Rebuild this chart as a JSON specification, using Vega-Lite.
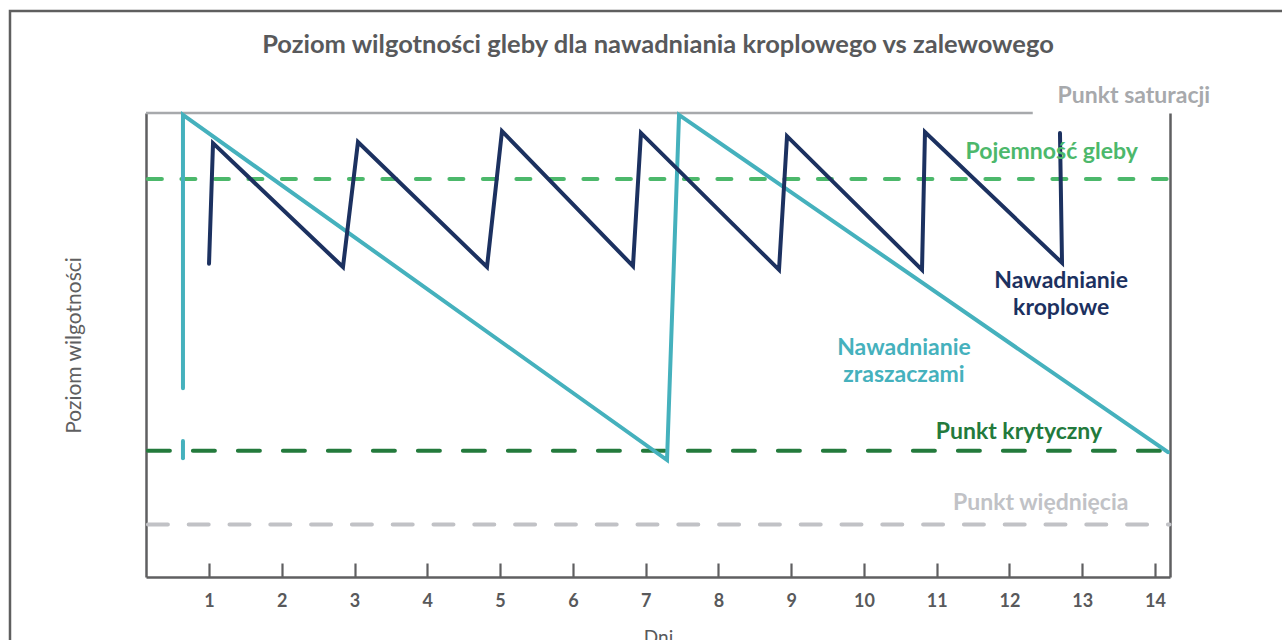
{
  "$schema": "https://vega.github.io/schema/vega-lite/v6.json",
  "width": 1024,
  "height": 464,
  "autosize": {"type": "none"},
  "padding": {"left": 146, "top": 113, "right": 112, "bottom": 63},
  "background": "white",
  "config": {"view": {"stroke": null}, "font": "Lato"},
  "title": {
    "text": "Poziom wilgotności gleby dla nawadniania kroplowego vs zalewowego",
    "font": "Lato", "fontSize": 25.5, "fontWeight": "bold", "color": "#58595b",
    "anchor": "middle", "frame": "group", "baseline": "alphabetic", "offset": -69
  },
  "datasets": {
    "series": [
      {"k": "zraszacze", "seg": "a", "i": 0, "day": 0.642, "m": 25.6},
      {"k": "zraszacze", "seg": "a", "i": 1, "day": 0.642, "m": 29.3},
      {"k": "zraszacze", "seg": "b", "i": 0, "day": 0.642, "m": 40.7},
      {"k": "zraszacze", "seg": "b", "i": 1, "day": 0.642, "m": 99.6},
      {"k": "zraszacze", "seg": "b", "i": 2, "day": 7.294, "m": 25.2},
      {"k": "zraszacze", "seg": "b", "i": 3, "day": 7.459, "m": 99.6},
      {"k": "zraszacze", "seg": "b", "i": 4, "day": 14.178, "m": 26.9},
      {"k": "kroplowe", "seg": "c", "i": 0, "day": 1.0, "m": 67.5},
      {"k": "kroplowe", "seg": "c", "i": 1, "day": 1.055, "m": 93.5},
      {"k": "kroplowe", "seg": "c", "i": 2, "day": 2.841, "m": 66.8},
      {"k": "kroplowe", "seg": "c", "i": 3, "day": 3.047, "m": 93.75},
      {"k": "kroplowe", "seg": "c", "i": 4, "day": 4.82, "m": 66.8},
      {"k": "kroplowe", "seg": "c", "i": 5, "day": 5.026, "m": 96.1},
      {"k": "kroplowe", "seg": "c", "i": 6, "day": 6.826, "m": 67.0},
      {"k": "kroplowe", "seg": "c", "i": 7, "day": 6.936, "m": 95.7},
      {"k": "kroplowe", "seg": "c", "i": 8, "day": 8.833, "m": 66.2},
      {"k": "kroplowe", "seg": "c", "i": 9, "day": 8.943, "m": 95.0},
      {"k": "kroplowe", "seg": "c", "i": 10, "day": 10.798, "m": 66.2},
      {"k": "kroplowe", "seg": "c", "i": 11, "day": 10.839, "m": 95.9},
      {"k": "kroplowe", "seg": "c", "i": 12, "day": 12.722, "m": 67.7},
      {"k": "kroplowe", "seg": "c", "i": 13, "day": 12.694, "m": 95.7}
    ],
    "levels": [
      {"k": "saturacja", "m": 100, "a": 0.134, "b": 12.32},
      {"k": "pojemnosc", "m": 85.8, "a": 0.16, "b": 14.16},
      {"k": "krytyczny", "m": 27.2, "a": 0.16, "b": 14.2},
      {"k": "wiedniecie", "m": 11.3, "a": 0.16, "b": 14.2}
    ],
    "notes": [
      {"k": "saturacja", "t": "Punkt saturacji", "day": 13.71, "m": 103.6},
      {"k": "pojemnosc", "t": "Pojemność gleby", "day": 12.58, "m": 91.6},
      {"k": "kroplowe", "t": "Nawadnianie\nkroplowe", "day": 12.71, "m": 63.8},
      {"k": "zraszacze", "t": "Nawadnianie\nzraszaczami", "day": 10.55, "m": 49.35},
      {"k": "krytyczny", "t": "Punkt krytyczny", "day": 12.13, "m": 31.25},
      {"k": "wiedniecie", "t": "Punkt więdnięcia", "day": 12.43, "m": 15.95}
    ]
  },
  "resolve": {"axis": {"y": "independent"}},
  "layer": [
    {
      "data": {"values": [{}]},
      "mark": {"type": "rect", "fill": "white", "fillOpacity": 0, "stroke": "#5f5f5f", "strokeWidth": 2.5},
      "encoding": {
        "x": {"datum": -1.735, "type": "quantitative", "scale": {"domain": [0.134, 14.206]}},
        "x2": {"datum": 17},
        "y": {"datum": 121.98, "type": "quantitative", "scale": {"domain": [0, 100]}, "axis": null},
        "y2": {"datum": -20}
      }
    },
    {
      "data": {"name": "levels"},
      "transform": [{"filter": "datum.k == 'saturacja'"}],
      "mark": {"type": "rule", "strokeWidth": 2.5},
      "encoding": {
        "x": {"field": "a", "type": "quantitative", "scale": {"domain": [0.134, 14.206]}},
        "x2": {"field": "b"},
        "y": {"field": "m", "type": "quantitative", "scale": {"domain": [0, 100]},
          "axis": {"orient": "right", "title": null, "labels": false, "ticks": false, "grid": false, "domain": true, "domainColor": "#5f5f61", "domainWidth": 2.5}},
        "color": {"field": "k", "type": "nominal", "legend": null,
          "scale": {"domain": ["saturacja", "pojemnosc", "krytyczny", "wiedniecie", "kroplowe", "zraszacze"],
                    "range": ["#a7a9ac", "#4cb86b", "#237a3c", "#c1c2c6", "#1c3160", "#45b1bd"]}}
      }
    },
    {
      "data": {"name": "levels"},
      "transform": [{"filter": "datum.k == 'pojemnosc'"}],
      "mark": {"type": "rule", "strokeWidth": 4, "strokeCap": "round", "strokeDash": [14, 19.5]},
      "encoding": {
        "x": {"field": "a", "type": "quantitative", "scale": {"domain": [0.134, 14.206]}},
        "x2": {"field": "b"},
        "y": {"field": "m", "type": "quantitative", "scale": {"domain": [0, 100]}, "axis": null},
        "color": {"field": "k", "type": "nominal", "legend": null}
      }
    },
    {
      "data": {"name": "levels"},
      "transform": [{"filter": "datum.k == 'krytyczny'"}],
      "mark": {"type": "rule", "strokeWidth": 4, "strokeCap": "round", "strokeDash": [22, 23]},
      "encoding": {
        "x": {"field": "a", "type": "quantitative", "scale": {"domain": [0.134, 14.206]}},
        "x2": {"field": "b"},
        "y": {"field": "m", "type": "quantitative", "scale": {"domain": [0, 100]}, "axis": null},
        "color": {"field": "k", "type": "nominal", "legend": null}
      }
    },
    {
      "data": {"name": "levels"},
      "transform": [{"filter": "datum.k == 'wiedniecie'"}],
      "mark": {"type": "rule", "strokeWidth": 4, "strokeCap": "round", "strokeDash": [20, 20.8]},
      "encoding": {
        "x": {"field": "a", "type": "quantitative", "scale": {"domain": [0.134, 14.206]}},
        "x2": {"field": "b"},
        "y": {"field": "m", "type": "quantitative", "scale": {"domain": [0, 100]}, "axis": null},
        "color": {"field": "k", "type": "nominal", "legend": null}
      }
    },
    {
      "data": {"name": "series"},
      "mark": {"type": "line", "strokeWidth": 4, "strokeCap": "round", "strokeJoin": "miter"},
      "encoding": {
        "x": {"field": "day", "type": "quantitative", "scale": {"domain": [0.134, 14.206]},
          "axis": {"values": [1, 2, 3, 4, 5, 6, 7, 8, 9, 10, 11, 12, 13, 14], "format": "d", "grid": false,
            "domainColor": "#5f5f61", "domainWidth": 2.5, "tickColor": "#5f5f61", "tickWidth": 2.2, "tickSize": -14,
            "labelFont": "Lato", "labelFontSize": 18, "labelFontWeight": "bold", "labelColor": "#58595b", "labelPadding": 29, "labelFlush": false,
            "title": "Dni", "titleFont": "Lato", "titleFontSize": 19, "titleFontWeight": "normal", "titleColor": "#58595b", "titlePadding": 18}},
        "y": {"field": "m", "type": "quantitative", "scale": {"domain": [0, 100]},
          "axis": {"orient": "left", "grid": false, "ticks": false, "labels": false, "domain": true, "domainColor": "#5f5f61", "domainWidth": 2.5,
            "title": "Poziom wilgotności", "titleFont": "Lato", "titleFontSize": 21, "titleFontWeight": "normal", "titleColor": "#5f5f61", "titlePadding": 62}},
        "color": {"field": "k", "type": "nominal", "legend": null},
        "detail": {"field": "seg"},
        "order": {"field": "i", "type": "quantitative"}
      }
    },
    {
      "data": {"name": "notes"},
      "mark": {"type": "text", "font": "Lato", "fontSize": 23, "fontWeight": "bold", "align": "center", "baseline": "middle", "lineBreak": "\n", "lineHeight": 27},
      "encoding": {
        "x": {"field": "day", "type": "quantitative", "scale": {"domain": [0.134, 14.206]}},
        "y": {"field": "m", "type": "quantitative", "scale": {"domain": [0, 100]}, "axis": null},
        "text": {"field": "t"},
        "color": {"field": "k", "type": "nominal", "legend": null}
      }
    }
  ]
}
